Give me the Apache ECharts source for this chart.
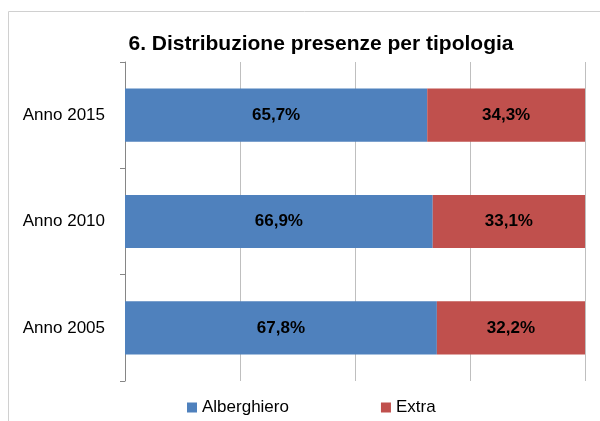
<!DOCTYPE html>
<html>
<head>
<meta charset="utf-8">
<script src="https://cdn.jsdelivr.net/npm/echarts@6/dist/echarts.min.js"></script>
<style>
  html, body { margin: 0; padding: 0; background: #fff; }
  #chart { width: 600px; height: 421px; }
</style>
</head>
<body>
<div id="chart"></div>
<script>
// dati
const anni = ['Anno 2005', 'Anno 2010', 'Anno 2015']
const alberghiero = [67.8, 66.9, 65.7]
const extra = [32.2, 33.1, 34.3]

const fontNarrow = '"Liberation Sans Narrow", "Arial Narrow", "Liberation Sans", sans-serif'

function pct(p) {
  return p.value.toFixed(1).replace('.', ',') + '%'
}

const chart = echarts.init(document.getElementById('chart'))
chart.setOption({
  animation: false,
  color: ['#4F81BD', '#C0504D'],
  title: {
    text: '6. Distribuzione presenze per tipologia',
    left: 316,
    textAlign: 'center',
    top: 29,
    textStyle: { fontFamily: fontNarrow, fontSize: 21, fontWeight: 'bold', color: '#000' }
  },
  graphic: [{
    type: 'rect',
    shape: { x: 8.5, y: 11.5, width: 620, height: 440 },
    style: { fill: 'none', stroke: '#D0D0D0', lineWidth: 1 },
    silent: true
  }],
  legend: {
    left: 187,
    top: 399,
    padding: 0,
    itemWidth: 10,
    itemHeight: 10,
    itemGap: 92,
    icon: 'rect',
    textStyle: { fontFamily: fontNarrow, fontSize: 17, color: '#000' },
    data: ['Alberghiero', 'Extra']
  },
  grid: { left: 125, right: 15, top: 62, bottom: 40 },
  xAxis: {
    type: 'value',
    min: 0,
    max: 100,
    interval: 25,
    axisLabel: { show: false },
    axisLine: { show: false },
    axisTick: { show: false },
    splitLine: { lineStyle: { color: '#BFBFBF', width: 1 } }
  },
  yAxis: {
    type: 'category',
    data: anni,
    axisLine: { show: true, lineStyle: { color: '#868686' } },
    axisTick: { show: true, length: 5, alignWithLabel: false, lineStyle: { color: '#868686' } },
    axisLabel: { fontFamily: fontNarrow, fontSize: 17, color: '#000', margin: 20 }
  },
  series: [
    {
      name: 'Alberghiero',
      type: 'bar',
      stack: 'tot',
      barCategoryGap: '50%',
      data: alberghiero,
      label: { show: true, position: 'inside', formatter: pct, fontFamily: fontNarrow, fontSize: 17, fontWeight: 'bold', color: '#000' }
    },
    {
      name: 'Extra',
      type: 'bar',
      stack: 'tot',
      barCategoryGap: '50%',
      data: extra,
      label: { show: true, position: 'inside', formatter: pct, fontFamily: fontNarrow, fontSize: 17, fontWeight: 'bold', color: '#000' }
    }
  ]
})
</script>
</body>
</html>
